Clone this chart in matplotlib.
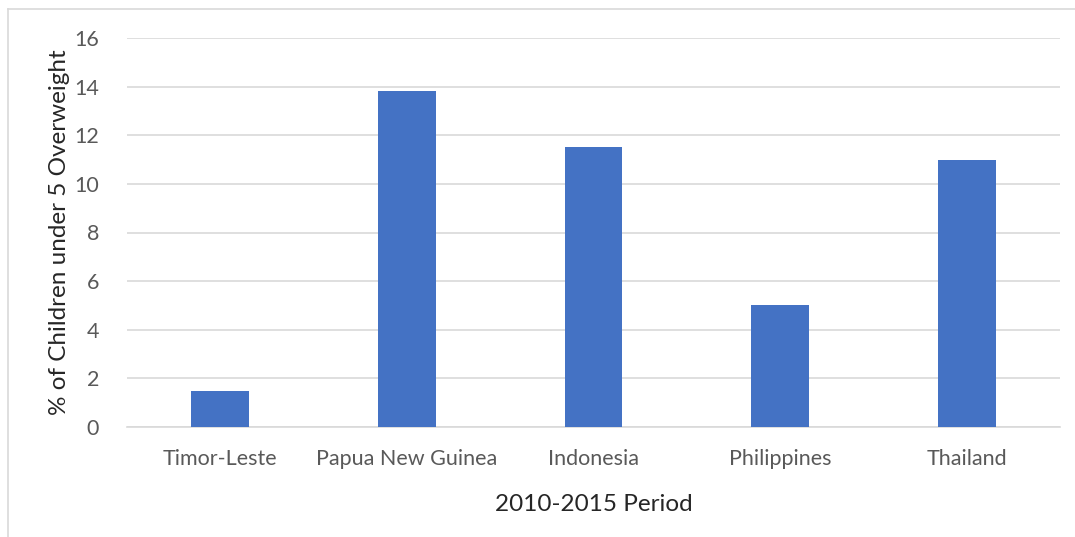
import matplotlib.pyplot as plt
from matplotlib.lines import Line2D
import numpy as np

countries = ['Timor-Leste', 'Papua New Guinea', 'Indonesia', 'Philippines', 'Thailand']
overweight = [1.5, 13.8, 11.5, 5.0, 11.0]
yticks = [0, 2, 4, 6, 8, 10, 12, 14, 16]

plt.rcParams['font.family'] = ['Lato', 'DejaVu Sans']

fig = plt.figure(figsize=(10.75, 5.37), dpi=100)
ax = fig.add_axes([127 / 1075, 110 / 537, 933 / 1075, 389 / 537])

x = np.arange(len(countries))
ax.bar(x, overweight, width=0.31, color='#4472C4', zorder=3)

ax.set_xlim(-0.5, len(countries) - 0.5)
ax.set_ylim(0, 16)
ax.set_yticks(yticks)
ax.set_xticks(x, countries)
ax.grid(axis='y', color='#d9d9d9', linewidth=1.2, zorder=0)
ax.spines[['top', 'right', 'left']].set_visible(False)
ax.spines['bottom'].set_color('#d9d9d9')
ax.spines['bottom'].set_linewidth(1.2)
ax.tick_params(length=0, labelsize=15.5, labelcolor='#595959')
ax.tick_params(axis='y', pad=20)
ax.tick_params(axis='x', pad=16)

ax.set_ylabel('% of Children under 5 Overweight', fontsize=17.5, color='#262626', labelpad=3)
ax.set_xlabel('2010-2015 Period', fontsize=17.5, color='#262626', labelpad=18)

# chart border (only left and top visible in the crop)
fig.add_artist(Line2D([7.5 / 1075, 7.5 / 1075], [0, 1 - 8.5 / 537], color='#d9d9d9', linewidth=1.2))
fig.add_artist(Line2D([7.5 / 1075, 1], [1 - 8.5 / 537, 1 - 8.5 / 537], color='#d9d9d9', linewidth=1.2))

fig.savefig('out.png', dpi=100)
